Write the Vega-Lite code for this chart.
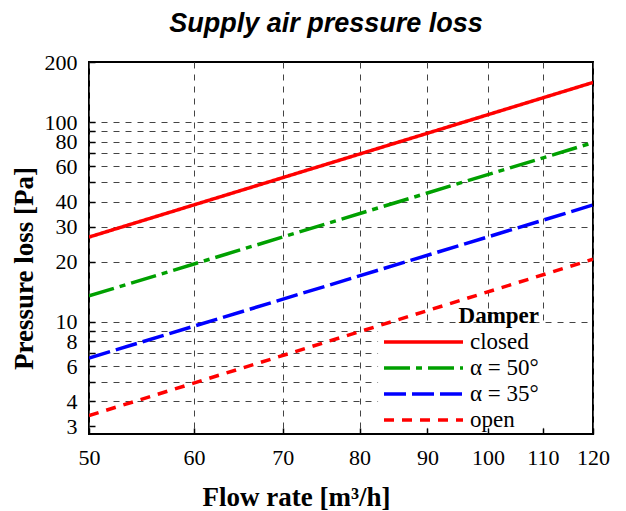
{
  "$schema": "https://vega.github.io/schema/vega-lite/v6.json",
  "width": 504,
  "height": 372,
  "autosize": {"type": "none"},
  "padding": {"left": 89, "top": 62, "right": 33, "bottom": 77},
  "background": "white",
  "title": {
    "text": "Supply air pressure loss",
    "font": "Liberation Sans",
    "fontSize": 27,
    "fontStyle": "italic",
    "fontWeight": "bold",
    "color": "black",
    "anchor": "middle",
    "frame": "group",
    "dx": -15,
    "dy": 28,
    "baseline": "alphabetic",
    "offset": 20
  },
  "data": {
    "values": [
      {"flow": 50, "loss": 26.6, "damper": "closed"},
      {"flow": 120, "loss": 158, "damper": "closed"},
      {"flow": 50, "loss": 13.5, "damper": "α = 50°"},
      {"flow": 120, "loss": 79, "damper": "α = 50°"},
      {"flow": 50, "loss": 6.6, "damper": "α = 35°"},
      {"flow": 120, "loss": 38.5, "damper": "α = 35°"},
      {"flow": 50, "loss": 3.4, "damper": "open"},
      {"flow": 120, "loss": 20.6, "damper": "open"}
    ]
  },
  "layer": [
    {
      "mark": {"type": "rect", "fill": "white", "stroke": null},
      "encoding": {
        "x": {
          "datum": 82.7,
          "type": "quantitative",
          "scale": {"type": "log", "domain": [50, 120], "nice": false},
          "axis": {
            "values": [50, 60, 70, 80, 90, 100, 110, 120],
            "format": "d",
            "title": "Flow rate [m³/h]",
            "titleX": 207,
            "titleY": 71,
            "titleAlign": "center",
            "titleBaseline": "alphabetic",
            "labelPadding": 19
          }
        },
        "x2": {"datum": 119.1},
        "y": {
          "datum": 2.97,
          "type": "quantitative",
          "scale": {"type": "log", "domain": [2.75, 200], "nice": false},
          "axis": {
            "values": [3, 4, 5, 6, 7, 8, 9, 10, 20, 30, 40, 50, 60, 70, 80, 90, 100, 200],
            "labelExpr": "indexof([3,4,6,8,10,20,30,40,60,80,100,200], datum.value) >= 0 ? format(datum.value, 'd') : ''",
            "gridOpacity": {"condition": {"test": "datum.value == 3 || datum.value == 200", "value": 0}, "value": 1},
            "title": "Pressure loss [Pa]",
            "titleX": -57,
            "titleY": 206,
            "titleAngle": 270,
            "titleAlign": "center",
            "titleBaseline": "alphabetic",
            "labelPadding": 18
          }
        },
        "y2": {"datum": 9.5}
      }
    },
    {
      "mark": {"type": "line", "strokeWidth": 3.5, "clip": true},
      "encoding": {
        "x": {
          "field": "flow",
          "type": "quantitative",
          "title": "Flow rate [m³/h]",
          "scale": {"type": "log", "domain": [50, 120], "nice": false}
        },
        "y": {
          "field": "loss",
          "type": "quantitative",
          "title": "Pressure loss [Pa]",
          "scale": {"type": "log", "domain": [2.75, 200], "nice": false}
        },
        "color": {
          "field": "damper",
          "type": "nominal",
          "scale": {
            "domain": ["closed", "α = 50°", "α = 35°", "open"],
            "range": ["#ff0000", "#00a000", "#0000ff", "#ff0000"]
          },
          "legend": {"title": "Damper"}
        },
        "strokeDash": {
          "field": "damper",
          "type": "nominal",
          "scale": {
            "domain": ["closed", "α = 50°", "α = 35°", "open"],
            "range": [[1, 0], [26, 6, 6, 6], [22, 6], [10, 8]]
          },
          "legend": {"title": "Damper"}
        }
      }
    }
  ],
  "config": {
    "view": {"stroke": "black", "strokeWidth": 2},
    "axis": {
      "domain": false,
      "grid": true,
      "gridColor": "#444444",
      "gridDash": [6, 6],
      "gridWidth": 1,
      "ticks": true,
      "tickSize": -6,
      "tickColor": "black",
      "tickWidth": 1.5,
      "labelFont": "Liberation Serif",
      "labelFontSize": 22,
      "labelColor": "black",
      "labelOverlap": false,
      "labelFlush": false,
      "titleFont": "Liberation Serif",
      "titleFontSize": 27,
      "titleFontWeight": "bold",
      "titleColor": "black"
    },
    "legend": {
      "orient": "none",
      "legendX": 293,
      "legendY": 243,
      "padding": 0,
      "titleFont": "Liberation Serif",
      "titleFontSize": 23,
      "titleFontWeight": "bold",
      "titleColor": "black",
      "titleAnchor": "end",
      "titlePadding": 1,
      "labelFont": "Liberation Serif",
      "labelFontSize": 23,
      "labelColor": "black",
      "labelOffset": 5,
      "symbolType": "stroke",
      "symbolSize": 6241,
      "symbolStrokeWidth": 3.5,
      "clipHeight": 26,
      "rowPadding": 0
    }
  }
}
